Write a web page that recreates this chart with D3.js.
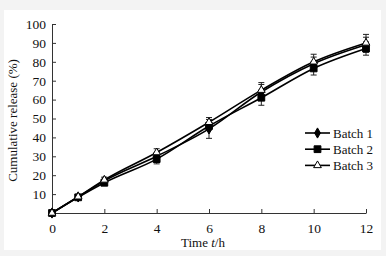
<!DOCTYPE html>
<html>
<head>
<meta charset="utf-8">
<script src="https://cdn.jsdelivr.net/npm/d3@7"></script>
<style>
  body { margin: 0; background: #f3f3f3; }
  svg { display: block; }
  text { font-family: "Liberation Serif", "DejaVu Serif", serif; fill: #111; }
</style>
</head>
<body>
<svg width="386" height="256"></svg>
<script>
// Data
const times = [0, 1, 2, 4, 6, 8, 10, 12];
const batch1 = [0, 8.5, 17, 30, 44.5, 64, 79, 89];
const batch2 = [0, 8.3, 16, 28.5, 46, 61, 76.5, 87];
const batch3 = [0, 8.6, 17.5, 32, 48, 65, 80, 90];
const err1 = [0, 0.8, 1.5, 2, 5, 4, 3.5, 4];
const err2 = [0, 0.8, 1.2, 2.5, 2, 4, 3.5, 3.5];
const err3 = [0, 0.8, 1.5, 2, 2.5, 4, 4, 4.5];
const seriesNames = ["Batch 1", "Batch 2", "Batch 3"];
const xTicks = [0, 2, 4, 6, 8, 10, 12];
const yTicks = [10, 20, 30, 40, 50, 60, 70, 80, 90, 100];

const margin = { top: 24, right: 20, bottom: 43, left: 52 };
const width = 366 - margin.left;
const height = 213 - margin.top;

const root = d3.select("svg");
root.append("rect").attr("x", 4).attr("y", 10).attr("width", 377).attr("height", 240)
    .attr("fill", "#fff");

const svg = root.append("g")
    .attr("transform", `translate(${margin.left}, ${margin.top})`);

const x = d3.scaleLinear().domain([0, 12]).range([0, width]);
const y = d3.scaleLinear().domain([0, 100]).range([height, 0]);

// Axes with inward ticks
const xAxis = svg.append("g")
    .attr("transform", `translate(0, ${height})`)
    .call(d3.axisBottom(x).tickValues(xTicks).tickSizeInner(-4).tickSizeOuter(0).tickPadding(10));
const yAxis = svg.append("g")
    .call(d3.axisLeft(y).tickValues(yTicks).tickSizeInner(-4).tickSizeOuter(0).tickPadding(6));
[xAxis, yAxis].forEach(a => {
    a.select(".domain").attr("stroke", "#333").attr("stroke-width", 1);
    a.selectAll(".tick line").attr("stroke", "#333");
    a.selectAll("text").attr("font-size", 13.5).attr("font-family", "Liberation Serif").attr("fill", "#111");
});

// Axis labels
const xl = svg.append("text")
    .attr("x", width / 2 - 6).attr("y", height + 34)
    .attr("text-anchor", "middle").attr("font-size", 13);
xl.append("tspan").text("Time ");
xl.append("tspan").attr("font-style", "italic").text("t");
xl.append("tspan").text("/h");

svg.append("text")
    .attr("transform", `translate(-35, ${height / 2 + 2}) rotate(-90)`)
    .attr("text-anchor", "middle").attr("font-size", 13)
    .text("Cumulative release (%)");

const series = [
    { name: seriesNames[0], values: batch1, err: err1, symbol: d3.symbolDiamond, size: 30, fill: "#000" },
    { name: seriesNames[1], values: batch2, err: err2, symbol: d3.symbolSquare, size: 46, fill: "#000" },
    { name: seriesNames[2], values: batch3, err: err3, symbol: d3.symbolTriangle, size: 26, fill: "#fff" }
];

const line = d3.line().x((d, i) => x(times[i])).y(d => y(d)).curve(d3.curveMonotoneX);

series.forEach(s => {
    // error bars
    const eb = svg.append("g").attr("stroke", "#222").attr("stroke-width", 1);
    s.values.forEach((v, i) => {
        if (!s.err[i]) return;
        const cx = x(times[i]);
        eb.append("line").attr("x1", cx).attr("x2", cx)
            .attr("y1", y(v + s.err[i])).attr("y2", y(v - s.err[i]));
        [v + s.err[i], v - s.err[i]].forEach(e => {
            eb.append("line").attr("x1", cx - 3).attr("x2", cx + 3)
                .attr("y1", y(e)).attr("y2", y(e));
        });
    });
    svg.append("path").datum(s.values)
        .attr("fill", "none").attr("stroke", "#000").attr("stroke-width", 1.6)
        .attr("d", line);
});

series.forEach(s => {
    svg.selectAll(null).data(s.values).enter().append("path")
        .attr("transform", (d, i) => `translate(${x(times[i])}, ${y(d)})`)
        .attr("d", d3.symbol().type(s.symbol).size(s.size))
        .attr("fill", s.fill).attr("stroke", "#000").attr("stroke-width", 1);
});

// Legend
const legend = svg.append("g").attr("transform", `translate(${305 - margin.left}, ${133 - margin.top})`);
series.forEach((s, i) => {
    const g = legend.append("g").attr("transform", `translate(0, ${i * 16.2})`);
    g.append("line").attr("x1", 0).attr("x2", 25).attr("stroke", "#000").attr("stroke-width", 1.6);
    g.append("path").attr("transform", "translate(12.5, 0)")
        .attr("d", d3.symbol().type(s.symbol).size(s.size))
        .attr("fill", s.fill).attr("stroke", "#000");
    g.append("text").attr("x", 28).attr("y", 4.5).attr("font-size", 13).text(s.name);
});
</script>
</body>
</html>
